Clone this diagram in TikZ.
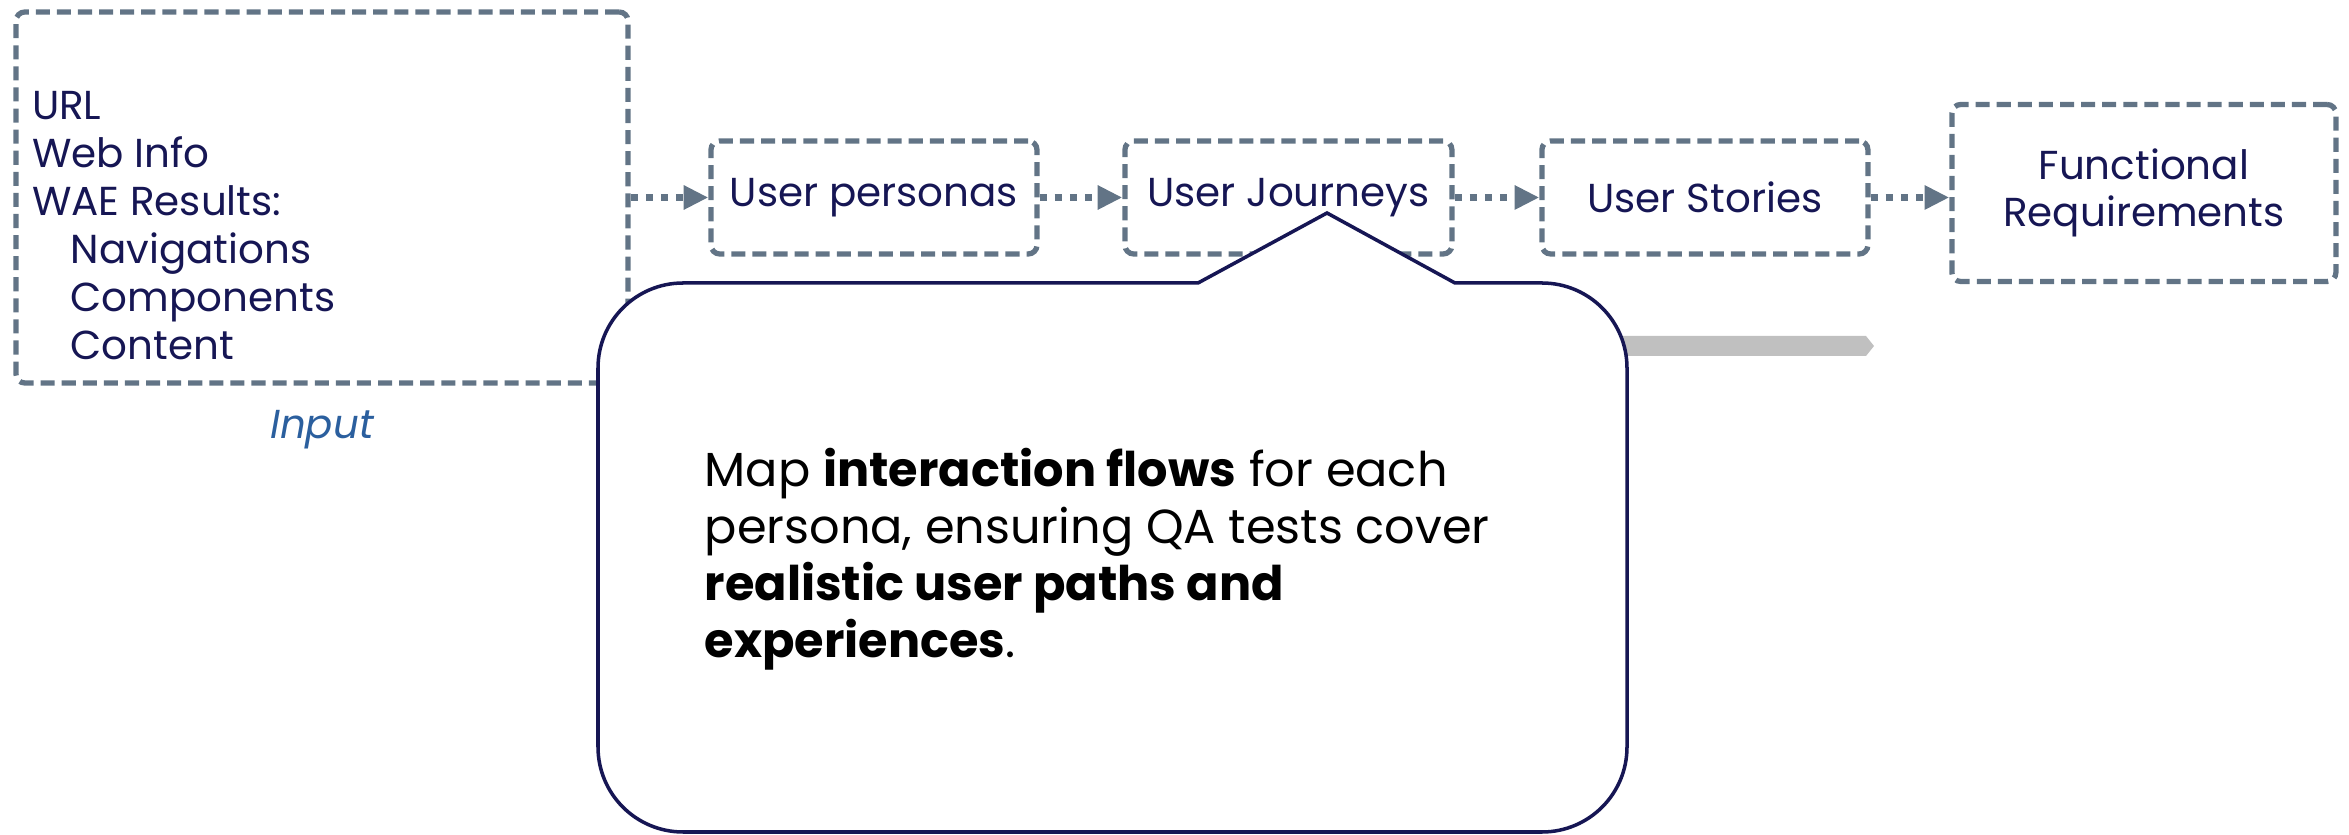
\documentclass[tikz,border=0pt]{standalone}
\usepackage{fontspec}
\setmainfont{Poppins}
\usetikzlibrary{positioning,arrows.meta}
\definecolor{boxgray}{RGB}{98,116,134}
\definecolor{navy}{RGB}{22,22,84}
\definecolor{inputblue}{RGB}{43,95,158}
\definecolor{bargray}{RGB}{192,192,192}
\tikzset{
  stage/.style={draw=boxgray, line width=1.5pt, dash pattern=on 4pt off 2pt,
    rounded corners=2.5pt, text=navy, font=\fontsize{11.5}{13.5}\selectfont,
    align=center, minimum height=1.13cm},
  flow/.style={draw=boxgray, line width=1.85pt, dash pattern=on 2pt off 2.3pt,
    -{Triangle[length=7pt,width=6.5pt]}},
  callout/.style={draw=navy, line width=1pt, fill=white},
}
\begin{document}
\begin{tikzpicture}
        \useasboundingbox (0,0) rectangle (23.49,-8.35);
        % Kaesten
        \node[stage, minimum width=6.12cm, minimum height=3.71cm] (input) at (3.22,-1.975) {};
        \node[text=navy, inner sep=0, align=left, font=\fontsize{11.5}{13.66}\selectfont,
          anchor=south west] (inlist) at ([shift={(0.18,0.25)}]input.south west)
          {URL\\Web Info\\WAE Results:\\\hspace*{11pt}Navigations\\\hspace*{11pt}Components\\\hspace*{11pt}Content};
        \node[below=0.24cm of input, inner sep=0, text=inputblue,
          font=\fontsize{11.5}{13}\selectfont\itshape] (inlabel) {Input};
        \node[stage, minimum width=3.26cm, right=0.777cm of input] (personas) {User personas};
        \node[stage, minimum width=3.27cm, right=0.827cm of personas] (journeys) {User Journeys};
        \node[stage, minimum width=3.26cm, right=0.847cm of journeys] (stories) {User Stories};
        \node[stage, minimum width=3.84cm, minimum height=1.77cm, right=0.787cm of stories,
          yshift=0.045cm] (funcreq) {Functional\\Requirements};
        % Pfeile
        \draw[flow] (input) -- (personas);
        \draw[flow] (personas) -- (journeys);
        \draw[flow] (journeys) -- (stories);
        \draw[flow] (stories) -- (stories -| funcreq.west);
        % Balken
        \fill[bargray] (10,-3.36) -- (18.66,-3.36) -- (18.74,-3.46) -- (18.66,-3.56) -- (10,-3.56) -- cycle;
        % Sprechblase
        \draw[callout] (5.98,-5) [rounded corners=0.85cm] |- (11.0,-2.83) [sharp corners] -- (11.98,-2.83)
          -- (13.27,-2.13) -- (14.55,-2.83) -- (15.2,-2.83) [rounded corners=0.85cm] -| (16.27,-8.32)
          -| (5.98,-5) -- cycle;
        \node[inner sep=0, align=left, anchor=north west, font=\fontsize{13.6}{16.2}\selectfont] (note) at (7.04,-4.48)
          {Map \textbf{interaction flows} for each\\persona, ensuring QA tests cover\\\textbf{realistic user paths and}\\\textbf{experiences}.};
\end{tikzpicture}
\end{document}
